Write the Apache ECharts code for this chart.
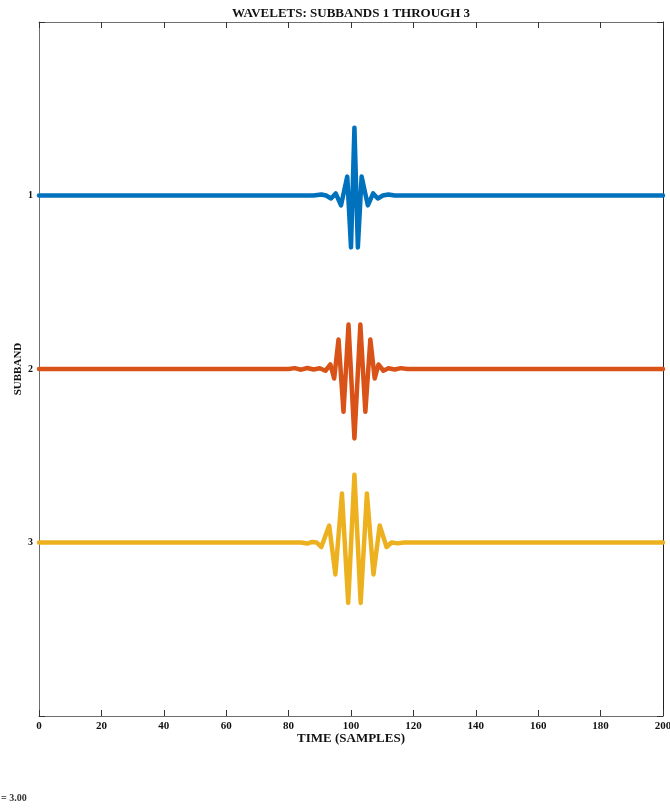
<!DOCTYPE html>
<html>
<head>
<meta charset="utf-8">
<script src="https://cdn.jsdelivr.net/npm/echarts@6/dist/echarts.min.js"></script>
<style>
  html, body { margin: 0; padding: 0; background: #fff; }
  #chart { width: 670px; height: 808px; }
</style>
</head>
<body>
<div id="chart"></div>
<script>
// subband wavelets (time, offset above the subband line)
const subbands = [1, 2, 3]
const subbandColors = ['#0072BD', '#D95319', '#EDB120']

const timeS1 = [0, 88, 90.5, 92, 93.6, 95.1, 96.8, 98.8, 100.0, 101.1, 102.2, 103.4, 105.4, 107.1, 108.6, 110.2, 112, 114, 200]
const waveS1 = [0, 0, 0.006, 0, -0.017, 0.012, -0.057, 0.109, -0.299, 0.391, -0.299, 0.109, -0.057, 0.012, -0.017, 0, 0.006, 0, 0]

const timeS2 = [0, 80, 82, 84, 86, 88, 90, 91.8, 93.4, 94.6, 96.0, 97.6, 99.2, 101.1, 103.0, 104.6, 106.2, 107.6, 108.8, 110.4, 112, 114, 116, 118, 200]
const waveS2 = [0, 0, 0.005, -0.004, 0.006, -0.003, 0.004, -0.01, 0.026, -0.055, 0.17, -0.247, 0.256, -0.40, 0.256, -0.247, 0.17, -0.055, 0.026, -0.01, 0.004, -0.003, 0.005, 0, 0]

const timeS3 = [0, 84, 86, 87.5, 89, 90.5, 93.0, 95.0, 97.1, 99.1, 101.1, 103.1, 105.1, 107.2, 109.2, 111.4, 113, 115, 117, 200]
const waveS3 = [0, 0, -0.006, 0.003, 0, -0.026, 0.098, -0.184, 0.283, -0.348, 0.391, -0.348, 0.283, -0.184, 0.098, -0.026, 0, -0.005, 0, 0]

const xTicks = [0, 20, 40, 60, 80, 100, 120, 140, 160, 180, 200]
const yTickLabels = ['', '1', '2', '3', '']

const times = [timeS1, timeS2, timeS3]
const waves = [waveS1, waveS2, waveS3]

const serif = 'Liberation Serif'
const axisGray = '#6e6e6e'

const chart = echarts.init(document.getElementById('chart'), null, { renderer: 'canvas' })

const xBase = {
  type: 'value',
  min: xTicks[0],
  max: xTicks[xTicks.length - 1],
  interval: 20,
  axisLine: { show: true, onZero: false, lineStyle: { color: axisGray, width: 1 } },
  axisTick: { show: true, inside: true, length: 6, lineStyle: { color: '#333' } },
  splitLine: { show: false },
}

const yBase = {
  type: 'value',
  inverse: true,
  min: 0,
  max: 4,
  interval: 1,
  axisLine: { show: true, onZero: false, lineStyle: { color: axisGray, width: 1 } },
  axisTick: { show: true, inside: true, length: 6, lineStyle: { color: '#333' } },
  splitLine: { show: false },
}

chart.setOption({
  animation: false,
  backgroundColor: '#fff',
  grid: { left: 39, right: 7, top: 22, bottom: 92, containLabel: false, outerBoundsMode: 'none' },
  xAxis: [
    {
      ...xBase,
      position: 'bottom',
      name: 'TIME (SAMPLES)',
      nameLocation: 'middle',
      nameGap: 16,
      nameMoveOverlap: false,
      nameTextStyle: { fontFamily: serif, fontWeight: 'bold', fontSize: 13, color: '#111' },
      axisLabel: { margin: 5, fontFamily: serif, fontWeight: 'bold', fontSize: 11, color: '#111' },
    },
    { ...xBase, position: 'top', axisLabel: { show: false } },
  ],
  yAxis: [
    {
      ...yBase,
      position: 'left',
      name: 'SUBBAND',
      nameLocation: 'middle',
      nameGap: 15,
      nameMoveOverlap: false,
      nameTextStyle: { fontFamily: serif, fontWeight: 'bold', fontSize: 11, color: '#111' },
      axisLabel: {
        margin: 6,
        fontFamily: serif,
        fontWeight: 'bold',
        fontSize: 10,
        color: '#111',
        formatter: (v) => yTickLabels[v] || '',
      },
    },
    {
      ...yBase,
      position: 'right',
      axisLine: { show: true, onZero: false, lineStyle: { color: '#222', width: 1 } },
      axisLabel: { show: false },
    },
  ],
  series: subbands.map((k, i) => ({
    name: 'Subband ' + k,
    type: 'line',
    xAxisIndex: 0,
    yAxisIndex: 0,
    symbol: 'none',
    smooth: false,
    data: times[i].map((t, j) => [t, k - waves[i][j]]),
    lineStyle: { color: subbandColors[i], width: 4.5, join: 'round', cap: 'round' },
    z: 3,
  })),
  graphic: [
    {
      type: 'text',
      x: 351,
      y: 14,
      style: {
        text: 'WAVELETS: SUBBANDS 1 THROUGH 3',
        font: 'bold 13px "Liberation Serif"',
        fill: '#111',
        textAlign: 'center',
        textVerticalAlign: 'middle',
      },
    },
    {
      type: 'text',
      x: 1,
      y: 798,
      style: {
        text: '= 3.00',
        font: 'bold 10px "Liberation Serif"',
        fill: '#333',
        textAlign: 'left',
        textVerticalAlign: 'middle',
      },
    },
  ],
})
</script>
</body>
</html>
